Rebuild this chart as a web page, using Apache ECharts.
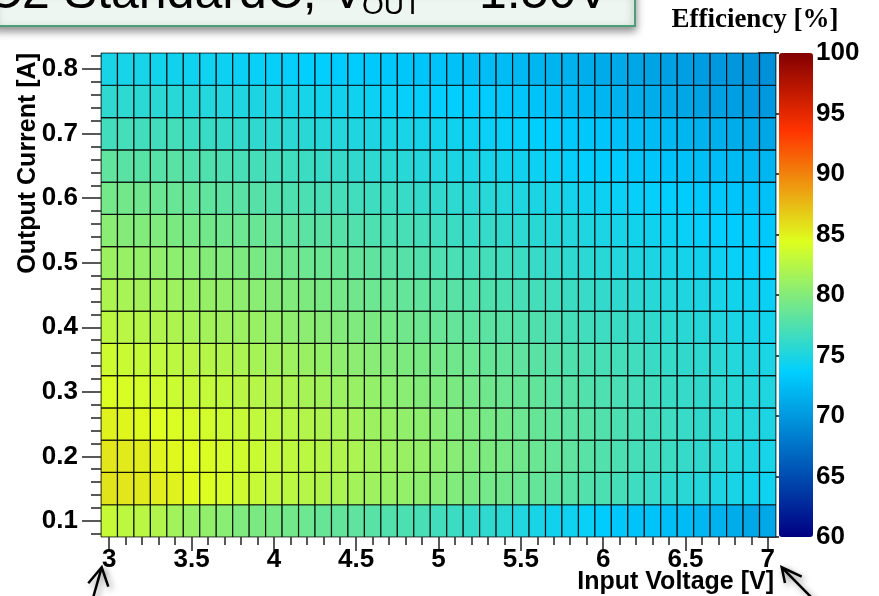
<!DOCTYPE html>
<html><head><meta charset="utf-8">
<script src="https://cdn.jsdelivr.net/npm/echarts@6/dist/echarts.min.js"></script>
<style>html,body{margin:0;padding:0;background:#fff}#c{width:879px;height:596px}</style>
</head><body><div id="c"></div>
<script>
// ---- data ----
const voltages = [3.0,3.1,3.2,3.3,3.4,3.5,3.6,3.7,3.8,3.9,4.0,4.1,4.2,4.3,4.4,4.5,4.6,4.7,4.8,4.9,5.0,5.1,5.2,5.3,5.4,5.5,5.6,5.7,5.8,5.9,6.0,6.1,6.2,6.3,6.4,6.5,6.6,6.7,6.8,6.9,7.0];
const currents = [0.10,0.15,0.20,0.25,0.30,0.35,0.40,0.45,0.50,0.55,0.60,0.65,0.70,0.75,0.80];
const xTickLabels = [3,3.5,4,4.5,5,5.5,6,6.5,7];
const yTickLabels = [0.1,0.2,0.3,0.4,0.5,0.6,0.7,0.8];
const zTickLabels = [60,65,70,75,80,85,90,95,100];

const eff010 = [83.3,82.8,82.6,82.2,81.5,81.0,80.7,80.3,79.8,79.6,79.5,79.2,78.9,78.6,78.4,78.2,77.9,77.6,77.3,77.1,76.8,76.5,76.2,75.9,75.6,75.2,74.8,74.4,74.3,74.0,73.4,73.2,72.9,72.9,72.6,72.4,72.1,71.8,71.4,71.1,71.1];
const eff015 = [85.6,85.5,85.3,85.2,85.0,84.6,84.3,84.0,83.6,83.3,83.0,82.7,82.4,82.2,81.9,81.6,81.3,81.0,80.8,80.5,80.2,79.9,79.6,79.3,79.1,78.8,78.5,78.2,77.9,77.6,77.3,77.0,76.6,76.3,75.9,75.6,75.3,75.0,74.8,74.5,74.3];
const eff020 = [85.5,85.3,85.1,84.9,84.7,84.4,84.2,83.9,83.7,83.4,83.2,82.9,82.7,82.4,82.2,81.9,81.6,81.3,81.1,80.8,80.5,80.2,79.9,79.7,79.4,79.1,78.8,78.5,78.2,77.9,77.6,77.3,77.0,76.8,76.5,76.2,75.9,75.6,75.3,75.0,74.7];
const eff025 = [85.0,84.8,84.6,84.4,84.2,84.0,83.8,83.5,83.3,83.0,82.8,82.5,82.3,82.0,81.8,81.5,81.2,81.0,80.7,80.5,80.2,79.9,79.7,79.4,79.2,78.9,78.6,78.4,78.1,77.9,77.6,77.3,77.1,76.8,76.6,76.3,76.0,75.8,75.5,75.3,75.0];
const eff030 = [84.3,84.1,83.9,83.7,83.5,83.3,83.1,82.9,82.6,82.4,82.2,82.0,81.7,81.5,81.2,81.0,80.8,80.5,80.3,80.0,79.8,79.6,79.3,79.1,78.8,78.6,78.4,78.1,77.9,77.6,77.4,77.2,76.9,76.7,76.4,76.2,76.0,75.8,75.5,75.3,75.1];
const eff035 = [83.6,83.4,83.2,83.0,82.8,82.6,82.4,82.2,81.9,81.7,81.5,81.3,81.1,80.8,80.6,80.4,80.2,80.0,79.7,79.5,79.3,79.1,78.9,78.6,78.4,78.2,78.0,77.8,77.5,77.3,77.1,76.9,76.7,76.4,76.2,76.0,75.8,75.6,75.3,75.1,74.9];
const eff040 = [82.8,82.6,82.4,82.2,82.0,81.8,81.6,81.4,81.2,81.0,80.8,80.6,80.4,80.2,80.0,79.8,79.6,79.4,79.1,78.9,78.7,78.5,78.3,78.1,77.9,77.7,77.5,77.3,77.0,76.8,76.6,76.4,76.2,76.0,75.8,75.6,75.4,75.2,74.9,74.7,74.5];
const eff045 = [82.0,81.8,81.6,81.5,81.3,81.1,80.9,80.7,80.5,80.3,80.1,79.9,79.7,79.5,79.3,79.1,78.9,78.7,78.5,78.3,78.1,77.9,77.7,77.5,77.3,77.1,76.9,76.7,76.5,76.3,76.1,75.9,75.7,75.5,75.3,75.1,74.9,74.7,74.5,74.3,74.1];
const eff050 = [81.2,81.0,80.8,80.7,80.5,80.3,80.1,79.9,79.7,79.5,79.3,79.1,78.9,78.8,78.6,78.4,78.2,78.0,77.8,77.6,77.4,77.2,77.0,76.9,76.7,76.5,76.3,76.1,75.9,75.7,75.5,75.3,75.1,75.0,74.8,74.6,74.4,74.2,74.0,73.8,73.6];
const eff055 = [80.3,80.1,79.9,79.8,79.6,79.4,79.2,79.0,78.9,78.7,78.5,78.3,78.1,78.0,77.8,77.6,77.4,77.2,77.1,76.9,76.7,76.5,76.3,76.2,76.0,75.8,75.6,75.4,75.3,75.1,74.9,74.7,74.5,74.4,74.2,74.0,73.8,73.7,73.5,73.4,73.2];
const eff060 = [79.3,79.2,79.0,78.8,78.7,78.5,78.3,78.1,78.0,77.8,77.6,77.4,77.3,77.1,77.0,76.8,76.6,76.5,76.3,76.1,76.0,75.8,75.6,75.5,75.3,75.1,74.9,74.7,74.6,74.4,74.2,74.1,73.9,73.8,73.6,73.5,73.3,73.2,73.0,72.9,72.7];
const eff065 = [78.3,78.0,77.9,77.8,78.0,77.6,77.5,77.3,77.1,77.0,76.8,76.7,76.5,76.3,76.2,76.0,75.8,75.7,75.5,75.3,75.2,75.0,74.9,74.7,74.5,74.4,74.2,74.0,73.9,73.7,73.5,73.4,73.2,73.1,72.9,72.8,72.6,72.5,72.3,72.2,72.0];
const eff070 = [76.8,76.9,76.8,76.8,76.9,76.5,76.4,76.2,76.1,75.9,75.8,75.7,75.6,75.4,75.3,75.1,75.0,74.9,74.8,74.6,74.5,74.4,74.2,74.1,73.9,73.8,73.6,73.5,73.3,73.2,73.0,72.8,72.6,72.4,72.2,72.0,71.8,71.6,71.4,71.2,71.0];
const eff075 = [75.9,75.8,75.7,75.6,75.5,75.4,75.3,75.2,75.1,75.0,74.9,74.8,74.7,74.5,74.4,74.3,74.2,74.0,73.9,73.8,73.7,73.6,73.5,73.4,73.2,73.1,72.9,72.7,72.5,72.2,72.0,71.8,71.6,71.4,71.2,71.0,70.8,70.6,70.4,70.2,70.0];
const eff080 = [74.8,74.7,74.7,74.5,74.4,74.3,74.3,74.2,74.1,74.0,73.9,73.8,73.7,73.7,73.5,73.4,73.3,73.2,73.1,73.0,72.9,72.8,72.6,72.5,72.4,72.2,72.0,71.9,71.7,71.5,71.3,71.2,71.0,70.8,70.6,70.4,70.3,70.1,69.9,69.7,69.5];

const effRows = [eff010,eff015,eff020,eff025,eff030,eff035,eff040,eff045,eff050,eff055,eff060,eff065,eff070,eff075,eff080];

// ---- build ----
const data = [];
effRows.forEach((row, j) => row.forEach((v, i) => data.push([voltages[i], currents[j], v])));
const hx = (voltages[1] - voltages[0]) / 2;
const hy = (currents[1] - currents[0]) / 2;

// ROOT-like 5-stop gradient palette
function palette(n) {
  const s = [0, 0.34, 0.61, 0.84, 1.0];
  const r = [0, 0, 0.87, 1, 0.51], g = [0, 0.81, 1, 0.2, 0], b = [0.51, 1, 0.12, 0, 0];
  const out = [];
  for (let k = 0; k < n; k++) {
    const t = k / (n - 1);
    let m = 0; while (m < s.length - 2 && t > s[m + 1]) m++;
    const f = (t - s[m]) / (s[m + 1] - s[m]);
    const c = (a) => Math.round(255 * (a[m] + (a[m + 1] - a[m]) * f));
    out.push('rgb(' + c(r) + ',' + c(g) + ',' + c(b) + ')');
  }
  return out;
}

const xMinor = [], yMinor = [];
for (let k = 0; k <= 40; k++) { const v = +(3 + k * 0.1).toFixed(2); if (!xTickLabels.includes(v)) xMinor.push(v); }
for (let k = 0; k <= 37; k++) { const v = +(0.08 + k * 0.02).toFixed(2); if (!yTickLabels.includes(v)) yMinor.push(v); }

const lblFont = { fontFamily: 'Liberation Sans, Arial, sans-serif', fontWeight: 'bold', fontSize: 26, color: '#000' };
const tickStyle = { color: '#222', width: 1.5 };

const chart = echarts.init(document.getElementById('c'), null, { renderer: 'canvas' });
chart.setOption({
  backgroundColor: '#fff',
  animation: false,
  grid: [
    { left: 101, top: 53, width: 675, height: 484, show: true, borderColor: '#555', borderWidth: 1, containLabel: false, outerBoundsMode: 'none' },
    { left: 779, top: 53, width: 34, height: 484, show: false, containLabel: false, outerBoundsMode: 'none' }
  ],
  xAxis: [
    { type: 'value', gridIndex: 0, min: 2.95, max: 7.05, position: 'bottom', splitLine: { show: false }, axisLine: { show: false },
      axisTick: { show: true, customValues: xTickLabels, length: 14, lineStyle: tickStyle },
      axisLabel: Object.assign({ customValues: xTickLabels, margin: 10 }, lblFont) },
    { type: 'value', gridIndex: 0, min: 2.95, max: 7.05, position: 'bottom', splitLine: { show: false }, axisLine: { show: false },
      axisTick: { show: true, customValues: xMinor, length: 8, lineStyle: tickStyle },
      axisLabel: { show: false } },
    { type: 'value', gridIndex: 1, min: 0, max: 1, show: false }
  ],
  yAxis: [
    { type: 'value', gridIndex: 0, min: 0.075, max: 0.825, position: 'left', splitLine: { show: false }, axisLine: { show: false },
      axisTick: { show: true, customValues: yTickLabels, length: 19, lineStyle: tickStyle },
      axisLabel: Object.assign({ customValues: yTickLabels, margin: 23 }, lblFont) },
    { type: 'value', gridIndex: 0, min: 0.075, max: 0.825, position: 'left', splitLine: { show: false }, axisLine: { show: false },
      axisTick: { show: true, customValues: yMinor, length: 10, lineStyle: tickStyle },
      axisLabel: { show: false } },
    { type: 'value', gridIndex: 1, min: 60, max: 100, position: 'right', splitLine: { show: false }, axisLine: { show: false },
      axisTick: { show: true, inside: true, customValues: zTickLabels, length: 21, lineStyle: { color: '#111', width: 1.5 } },
      axisLabel: Object.assign({ customValues: zTickLabels, margin: 3 }, lblFont) }
  ],
  visualMap: {
    type: 'continuous', min: 60, max: 100, dimension: 2, seriesIndex: 0,
    calculable: false, show: true, orient: 'vertical', left: 779, top: 53,
    itemWidth: 34, itemHeight: 484, padding: 0, text: null, showLabel: false,
    inRange: { color: palette(101) }
  },
  series: [{
    type: 'custom', xAxisIndex: 0, yAxisIndex: 0, coordinateSystem: 'cartesian2d',
    encode: { x: 0, y: 1 }, data: data, clip: true,
    renderItem: function (params, api) {
      const x = api.value(0), y = api.value(1);
      const p0 = api.coord([x - hx, y + hy]);
      const p1 = api.coord([x + hx, y - hy]);
      return { type: 'rect', shape: { x: p0[0], y: p0[1], width: p1[0] - p0[0], height: p1[1] - p0[1] },
        style: { fill: api.visual('color'), stroke: 'rgba(0,0,0,0.85)', lineWidth: 1.2 } };
    }
  }],
  graphic: [
    { type: 'rect', z: 100, shape: { x: -5, y: -12, width: 640, height: 38 },
      style: { fill: '#eef6f1', stroke: '#4f9d78', lineWidth: 2, shadowBlur: 8, shadowColor: 'rgba(0,0,0,0.45)', shadowOffsetY: 4 } },
    { type: 'text', z: 101, x: -14, y: -5.5, style: { text: 'C2 StandardC, V', font: '50px "Liberation Sans", Arial, sans-serif', fill: '#000', verticalAlign: 'middle', align: 'left' } },
    { type: 'text', z: 101, x: 362, y: 6.7, style: { text: 'OUT', font: '28px "Liberation Sans", Arial, sans-serif', fill: '#000', verticalAlign: 'middle', align: 'left' } },
    { type: 'text', z: 101, x: 422, y: -5.5, style: { text: ' = 1.50V', font: '50px "Liberation Sans", Arial, sans-serif', fill: '#000', verticalAlign: 'middle', align: 'left' } },
    { type: 'text', z: 101, x: 755, y: 20, style: { text: 'Efficiency [%]', font: 'bold 27px "Liberation Serif", "Times New Roman", serif', fill: '#000', verticalAlign: 'middle', align: 'center' } },
    { type: 'text', z: 101, x: 774, y: 582, style: { text: 'Input Voltage [V]', font: 'bold 25px "Liberation Sans", Arial, sans-serif', fill: '#000', verticalAlign: 'middle', align: 'right' } },
    { type: 'text', z: 101, x: 28.5, y: 53, rotation: Math.PI / 2, style: { text: 'Output Current [A]', font: 'bold 25px "Liberation Sans", Arial, sans-serif', fill: '#000', verticalAlign: 'middle', align: 'right' } },
    { type: 'polyline', z: 101, shape: { points: [[93, 598], [101.7, 567.3]] }, style: { stroke: '#000', lineWidth: 2.5, shadowBlur: 6, shadowColor: 'rgba(0,0,0,0.4)', shadowOffsetX: 3, shadowOffsetY: 3 } },
    { type: 'polyline', z: 101, shape: { points: [[88.3, 583.3], [101.7, 567.3], [108.3, 586.7]] }, style: { stroke: '#000', lineWidth: 2.5, fill: null, shadowBlur: 6, shadowColor: 'rgba(0,0,0,0.4)', shadowOffsetX: 3, shadowOffsetY: 3 } },
    { type: 'polyline', z: 101, shape: { points: [[781.7, 567.3], [812, 598]] }, style: { stroke: '#000', lineWidth: 2.5, shadowBlur: 6, shadowColor: 'rgba(0,0,0,0.4)', shadowOffsetX: 3, shadowOffsetY: 3 } },
    { type: 'polyline', z: 101, shape: { points: [[801.7, 576.7], [781.7, 567.3], [785, 583]] }, style: { stroke: '#000', lineWidth: 2.5, fill: null, shadowBlur: 6, shadowColor: 'rgba(0,0,0,0.4)', shadowOffsetX: 3, shadowOffsetY: 3 } }
  ]
});
</script>
</body></html>
